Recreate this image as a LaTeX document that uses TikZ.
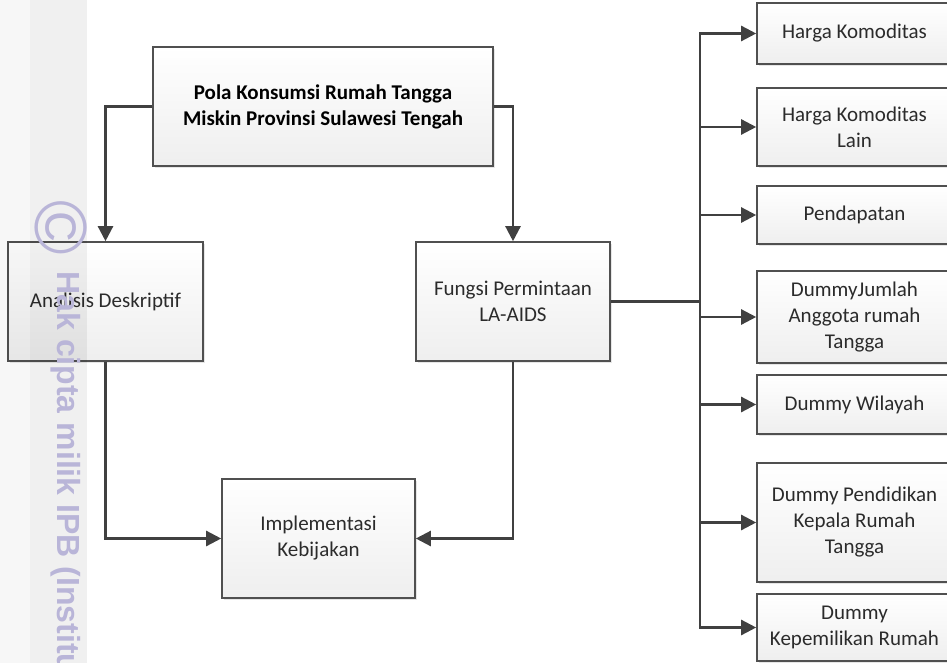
\documentclass[tikz,border=0pt]{standalone}
\usepackage{fontspec}
\setmainfont{Carlito}
\newfontfamily\markfont{Liberation Sans}
\usetikzlibrary{arrows.meta,shadows}
\definecolor{boxline}{HTML}{505050}
\definecolor{wirecol}{HTML}{404040}
\definecolor{textcol}{HTML}{2B2B2B}
\definecolor{markcol}{RGB}{185,181,216}
\begin{document}
\begin{tikzpicture}[
            x=1pt, y=-1pt,
            every node/.style={align=center, font=\fontsize{21}{26}\selectfont, text=textcol},
            box/.style={draw=boxline, line width=1.6pt, inner sep=0pt,
                top color=white, bottom color=gray!13,
                drop shadow={shadow xshift=2pt, shadow yshift=-2pt, opacity=0.2}},
            wire/.style={draw=wirecol, line width=2.4pt},
            arrowwire/.style={wire, -{Triangle[length=15pt,width=15pt]}}
            ]
            \useasboundingbox (0,0) rectangle (947,663);
            % main boxes
            \node[box, minimum width=340pt, minimum height=119pt] (pola) at (323,106.5)
                {\textbf{\color{black}Pola Konsumsi Rumah Tangga}\\\textbf{\color{black}Miskin Provinsi Sulawesi Tengah}};
            \node[box, minimum width=195pt, minimum height=119pt] (anal) at (105.5,301.5) {Analisis Deskriptif};
            \node[box, minimum width=194pt, minimum height=119pt] (fungsi) at (513,301.5) {Fungsi Permintaan\\LA-AIDS};
            \node[box, minimum width=193pt, minimum height=119pt] (impl) at (318.5,538.5) {Implementasi\\Kebijakan};
            % variables
            \node[box, minimum width=195pt, minimum height=61pt] (hrg) at (854.5,33.5) {Harga Komoditas};
            \node[box, minimum width=195pt, minimum height=78pt] (hrglain) at (854.5,127) {Harga Komoditas\\Lain};
            \node[box, minimum width=195pt, minimum height=58pt] (pdpt) at (854.5,215) {Pendapatan};
            \node[box, minimum width=195pt, minimum height=92pt] (art) at (854.5,317) {DummyJumlah\\Anggota rumah\\Tangga};
            \node[box, minimum width=195pt, minimum height=59pt] (wil) at (854.5,404.5) {Dummy Wilayah};
            \node[box, minimum width=195pt, minimum height=119pt] (didik) at (854.5,522.5) {Dummy Pendidikan\\Kepala Rumah\\Tangga};
            \node[box, minimum width=195pt, minimum height=67pt] (rumah) at (854.5,627.5) {Dummy\\Kepemilikan Rumah};
            % connectors
            \draw[arrowwire] (pola.west) -| (anal.north);
            \draw[arrowwire] (pola.east) -| (fungsi.north);
            \draw[arrowwire] (anal.south) |- (impl.west);
            \draw[arrowwire] (fungsi.south) |- (impl.east);
            \coordinate (bus) at (700,301.5);
            \draw[wire] (fungsi.east) -- (bus);
            \foreach \t in {hrg,hrglain,pdpt,art,wil,didik,rumah}
                \draw[arrowwire] (bus) |- (\t.west);
            % watermark
            \fill[black, opacity=0.03] (0,0) rectangle (30,663);
            \fill[black, opacity=0.06] (30,0) rectangle (87,663);
            \node[rotate=-90, text=markcol, font=\markfont\fontsize{74}{74}\selectfont] (copy) at (61,228) {©};
            \node[rotate=-90, anchor=west, text=markcol, font=\markfont\bfseries\fontsize{32}{32}\selectfont] (mark) at (66,268) {Hak cipta milik IPB (Institu};
\end{tikzpicture}
\end{document}
